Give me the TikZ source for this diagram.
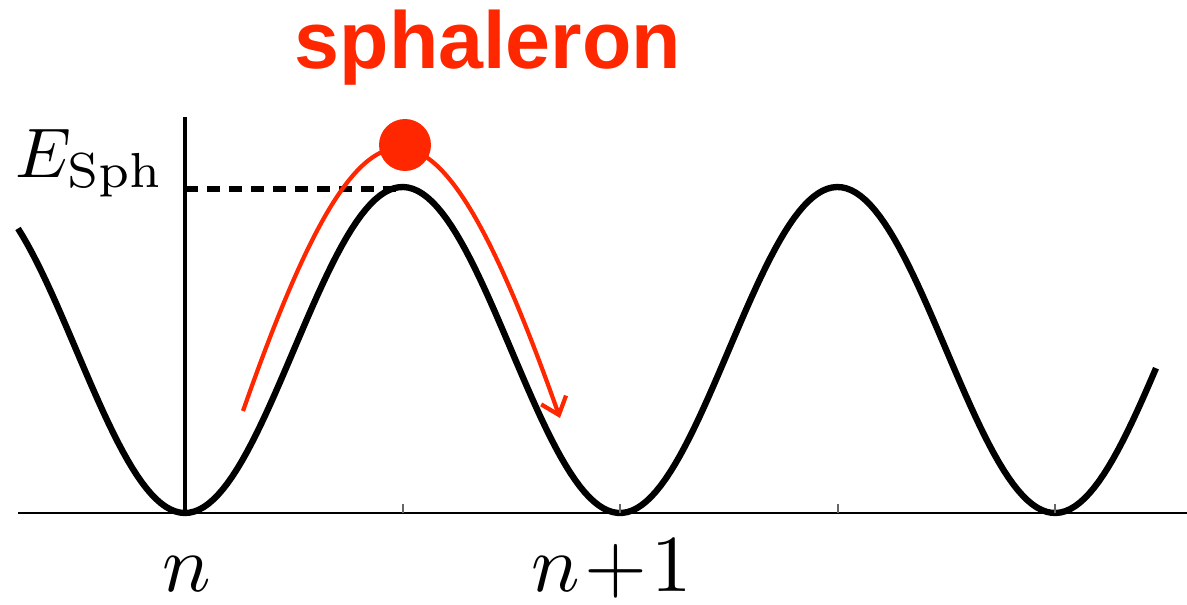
\documentclass[tikz,border=0pt]{standalone}
\usepackage{fontspec}
\newfontfamily\titlefont{Liberation Sans}
\usetikzlibrary{arrows.meta}
\definecolor{cSph}{HTML}{FF2700}
\tikzset{
  pot/.style={line width=3.6pt, black, line join=round},
  axis/.style={line width=1.7pt, black},
  tick/.style={line width=0.8pt, black!60},
  level/.style={line width=3.6pt, black, dash pattern=on 7.5pt off 5pt},
  path/.style={line width=2.4pt, draw=cSph, -{Straight Barb[length=9pt, width=15pt, line width=2.4pt]}},
  ball/.style={circle, fill=cSph, minimum size=1.04cm, inner sep=0pt},
  lbl/.style={inner sep=0pt, anchor=base},
}
\begin{document}
\begin{tikzpicture}[x=0.02cm, y=-0.02cm]
\useasboundingbox (0,0) rectangle (1187,605);
% potential
\draw[pot] plot[domain=18:1156, samples=240] (\x, {513-163*(1-cos(0.827586*(\x-185)))});
\draw[axis] (18,513) -- (1187,513);
\draw[axis, line width=2.2pt] (185,513) -- (185,117);
\foreach \t in {403,620,838,1055} \draw[tick] (\t,513) -- (\t,504);
% barrier height
\coordinate (top) at (400,189);
\draw[level] (185,189) -- (top);
\node[lbl] (esph) at (90,177) {\scalebox{4}{$E_{\mathrm{Sph}}$}};
\node[lbl] (lbln) at (187,591) {\scalebox{4.6}{$n$}};
\node[lbl] (lblnn) at (612,591) {\scalebox{4.6}{$n\!+\!1$}};
% tunnelling path
\coordinate (start) at (243,411);
\coordinate (end) at (560,418);
\draw[path] (start) .. controls (366,60) and (433,60) .. (end);
\node[ball] (dot) at (405,145) {};
\node[lbl, font=\titlefont\bfseries\fontsize{46}{46}\selectfont, text=cSph] (title) at (488,68) {sphaleron};
\end{tikzpicture}
\end{document}
